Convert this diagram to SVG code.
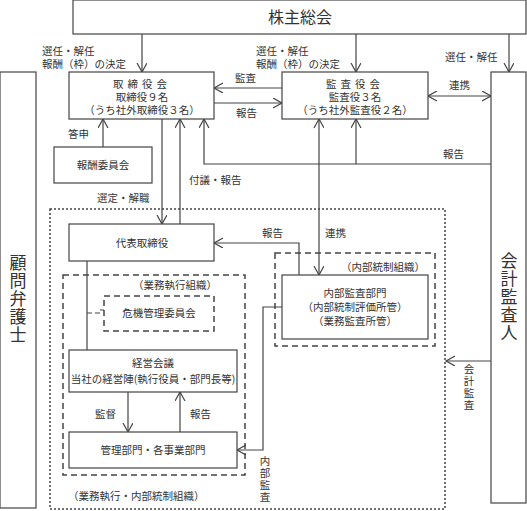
<svg xmlns="http://www.w3.org/2000/svg" width="527" height="511" viewBox="0 0 527 511">
<style>
.b{fill:#fff;stroke:#444;stroke-width:1.2}
.l{fill:none;stroke:#444;stroke-width:1.2}
.t{font-family:"Noto Sans CJK JP","Noto Sans",sans-serif;font-size:10.5px;fill:#333}
.m{text-anchor:middle}
.big{font-size:16px}
.v{font-size:17px;writing-mode:vertical-rl;text-orientation:upright;letter-spacing:1px}
.vs{writing-mode:vertical-rl;text-orientation:upright;letter-spacing:1.5px}
</style>
<defs>
<marker id="a" markerUnits="userSpaceOnUse" markerWidth="12" markerHeight="12" refX="9" refY="5" orient="auto">
<path d="M0,0 L9,5 L0,10" fill="none" stroke="#444" stroke-width="1.2"/>
</marker>
<marker id="s" markerUnits="userSpaceOnUse" markerWidth="12" markerHeight="12" refX="0" refY="5" orient="auto">
<path d="M9,0 L0,5 L9,10" fill="none" stroke="#444" stroke-width="1.2"/>
</marker>
</defs>

<g id="containers">
<rect x="50" y="209" width="395" height="300" fill="none" stroke="#444" stroke-width="1.5" stroke-dasharray="2,2"/>
<rect x="63" y="275" width="182" height="200" fill="none" stroke="#444" stroke-width="1.5" stroke-dasharray="6,4"/>
<rect x="275" y="253" width="160" height="93" fill="none" stroke="#444" stroke-width="1.5" stroke-dasharray="6,4"/>
<text class="t" x="425" y="271" text-anchor="end">（内部統制組織）</text>
<text class="t" x="217" y="289" text-anchor="end">（業務執行組織）</text>
<text class="t" x="68" y="500">（業務執行・内部統制組織）</text>
</g>

<g id="connectors">
<line class="l" x1="142" y1="34" x2="142" y2="72" marker-end="url(#a)"/>
<line class="l" x1="356" y1="34" x2="356" y2="72" marker-end="url(#a)"/>
<line class="l" x1="509" y1="34" x2="509" y2="72" marker-end="url(#a)"/>
<line class="l" x1="282" y1="88" x2="214" y2="88" marker-end="url(#a)"/>
<line class="l" x1="214" y1="103" x2="282" y2="103" marker-end="url(#a)"/>
<line class="l" x1="428" y1="96" x2="491" y2="96" marker-start="url(#s)" marker-end="url(#a)"/>
<polyline class="l" points="491,164 204,164 204,119" marker-end="url(#a)"/>
<line class="l" x1="356" y1="164" x2="356" y2="119" marker-end="url(#a)"/>
<line class="l" x1="319" y1="119" x2="319" y2="275" marker-start="url(#s)" marker-end="url(#a)"/>
<line class="l" x1="180" y1="224" x2="180" y2="119" marker-end="url(#a)"/>
<line class="l" x1="162" y1="119" x2="162" y2="224" marker-end="url(#a)"/>
<line class="l" x1="103" y1="147" x2="103" y2="119" marker-end="url(#a)"/>
<polyline class="l" points="299,275 299,243 214,243" marker-end="url(#a)"/>
<line class="l" x1="87" y1="261" x2="87" y2="350"/>
<polyline fill="none" stroke="#444" stroke-width="1.2" stroke-dasharray="5,3" points="87,313 100,313 100,310 104,310"/>
<line class="l" x1="128" y1="392" x2="128" y2="432" marker-end="url(#a)"/>
<line class="l" x1="180" y1="432" x2="180" y2="392" marker-end="url(#a)"/>
<polyline class="l" points="282,307 263,307 263,450 237,450" marker-end="url(#a)"/>
<line class="l" x1="491" y1="361" x2="446" y2="361" marker-end="url(#a)"/>
</g>

<g id="labels">
<text class="t" x="42" y="55">選任・解任</text>
<text class="t" x="42" y="68">報酬（枠）の決定</text>
<text class="t" x="256" y="55">選任・解任</text>
<text class="t" x="256" y="68">報酬（枠）の決定</text>
<text class="t" x="445" y="61">選任・解任</text>
<text class="t" x="235" y="82">監査</text>
<text class="t" x="236" y="117">報告</text>
<text class="t" x="449" y="89">連携</text>
<text class="t" x="443" y="158">報告</text>
<text class="t" x="68" y="138">答申</text>
<text class="t" x="189" y="184">付議・報告</text>
<text class="t" x="97" y="202">選定・解職</text>
<text class="t" x="262" y="237">報告</text>
<text class="t" x="325" y="237">連携</text>
<text class="t" x="95" y="418">監督</text>
<text class="t" x="190" y="418">報告</text>
<text class="t vs" x="469" y="364">会計監査</text>
<text class="t vs" x="265" y="456">内部監査</text>
</g>

<g id="shareholders">
<rect class="b" x="73" y="0" width="453" height="34"/>
<text class="t big m" x="300" y="23">株主総会</text>
</g>

<g id="lawyer">
<rect class="b" x="0" y="72" width="36" height="436"/>
<text class="t v" x="18" y="254">顧問弁護士</text>
</g>

<g id="accounting-auditor">
<rect class="b" x="491" y="72" width="35" height="431"/>
<text class="t v" x="509" y="252">会計監査人</text>
</g>

<g id="board">
<rect class="b" x="69" y="72" width="145" height="47"/>
<text class="t m" x="142" y="88" letter-spacing="4">取締役会</text>
<text class="t m" x="142" y="101">取締役９名</text>
<text class="t m" x="142" y="114">（うち社外取締役３名）</text>
</g>

<g id="audit-board">
<rect class="b" x="282" y="72" width="146" height="47"/>
<text class="t m" x="355" y="88" letter-spacing="4">監査役会</text>
<text class="t m" x="355" y="101">監査役３名</text>
<text class="t m" x="355" y="114">（うち社外監査役２名）</text>
</g>

<g id="compensation">
<rect class="b" x="54" y="147" width="98" height="36"/>
<text class="t m" x="103" y="169">報酬委員会</text>
</g>

<g id="representative">
<rect class="b" x="69" y="224" width="145" height="37"/>
<text class="t m" x="142" y="247">代表取締役</text>
</g>

<g id="crisis">
<rect x="104" y="296" width="110" height="35" fill="#fff" stroke="#444" stroke-width="1.5" stroke-dasharray="6,4"/>
<text class="t m" x="159" y="317">危機管理委員会</text>
</g>

<g id="internal-audit">
<rect class="b" x="282" y="275" width="146" height="64"/>
<text class="t m" x="355" y="297">内部監査部門</text>
<text class="t m" x="355" y="311">（内部統制評価所管）</text>
<text class="t m" x="355" y="325">（業務監査所管）</text>
</g>

<g id="management">
<rect class="b" x="69" y="350" width="168" height="42"/>
<text class="t m" x="153" y="367">経営会議</text>
<text class="t m" x="153" y="383">当社の経営陣(執行役員・部門長等)</text>
</g>

<g id="departments">
<rect class="b" x="69" y="432" width="168" height="36"/>
<text class="t m" x="153" y="454">管理部門・各事業部門</text>
</g>
</svg>
